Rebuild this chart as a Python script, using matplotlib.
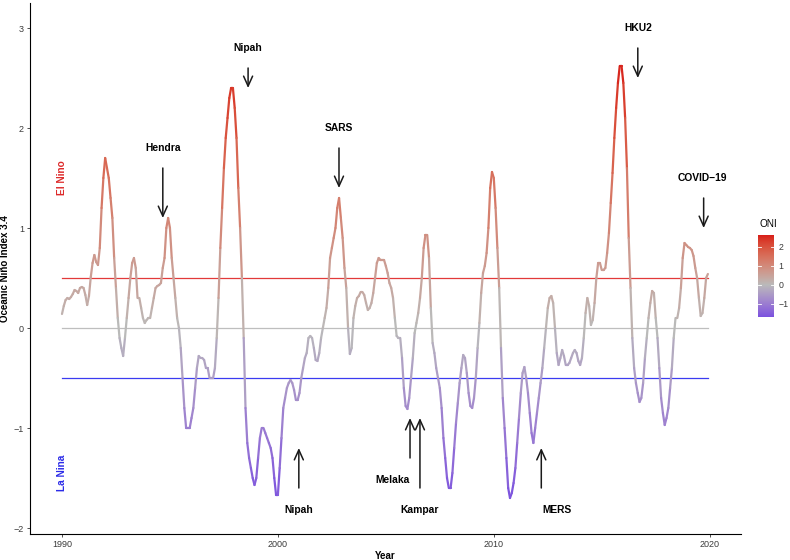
import numpy as np
import matplotlib
matplotlib.use("Agg")
import matplotlib.pyplot as plt
from matplotlib.collections import LineCollection
from matplotlib.colors import ListedColormap, Normalize, to_rgb

plt.rcParams['font.family'] = ['Liberation Sans', 'DejaVu Sans']

# ---------------- data (monthly Oceanic Nino Index, Jan 1990 - Dec 2019) ----------------
start_year = 1990
oni_1990s = [
    0.14, 0.22, 0.28, 0.30, 0.29, 0.31, 0.34, 0.38, 0.37, 0.35, 0.40, 0.41,   # 1990
    0.40, 0.33, 0.23, 0.32, 0.51, 0.65, 0.73, 0.66, 0.63, 0.80, 1.20, 1.50,   # 1991
    1.70, 1.60, 1.50, 1.30, 1.10, 0.70, 0.40, 0.10, -0.10, -0.20, -0.28, -0.10,  # 1992
    0.10, 0.30, 0.50, 0.65, 0.70, 0.60, 0.30, 0.30, 0.20, 0.10, 0.05, 0.08,   # 1993
    0.10, 0.10, 0.20, 0.30, 0.40, 0.42, 0.43, 0.45, 0.60, 0.70, 1.00, 1.10,   # 1994
    1.00, 0.70, 0.50, 0.30, 0.10, 0.00, -0.20, -0.50, -0.80, -1.00, -1.00, -1.00,  # 1995
    -0.90, -0.80, -0.60, -0.40, -0.28, -0.30, -0.30, -0.32, -0.40, -0.40, -0.50, -0.50,  # 1996
    -0.50, -0.40, -0.10, 0.30, 0.80, 1.20, 1.60, 1.90, 2.10, 2.30, 2.40, 2.40,  # 1997
    2.20, 1.90, 1.40, 1.00, 0.50, -0.10, -0.80, -1.15, -1.30, -1.40, -1.50, -1.57,  # 1998
    -1.50, -1.30, -1.10, -1.00, -1.00, -1.05, -1.10, -1.15, -1.20, -1.30, -1.50, -1.67,  # 1999
]
oni_2000s = [
    -1.67, -1.40, -1.10, -0.80, -0.70, -0.60, -0.55, -0.52, -0.55, -0.62, -0.72, -0.72,  # 2000
    -0.65, -0.50, -0.40, -0.30, -0.25, -0.10, -0.08, -0.10, -0.20, -0.32, -0.33, -0.25,  # 2001
    -0.10, 0.00, 0.10, 0.20, 0.40, 0.70, 0.80, 0.90, 1.00, 1.20, 1.30, 1.10,  # 2002
    0.90, 0.60, 0.40, 0.00, -0.26, -0.20, 0.10, 0.22, 0.30, 0.32, 0.36, 0.36,  # 2003
    0.33, 0.25, 0.18, 0.20, 0.25, 0.35, 0.50, 0.65, 0.70, 0.68, 0.68, 0.68,  # 2004
    0.62, 0.55, 0.45, 0.40, 0.30, 0.10, -0.08, -0.10, -0.10, -0.30, -0.60, -0.78,  # 2005
    -0.81, -0.70, -0.50, -0.30, -0.05, 0.05, 0.15, 0.30, 0.50, 0.80, 0.93, 0.93,  # 2006
    0.70, 0.20, -0.15, -0.25, -0.40, -0.50, -0.60, -0.80, -1.10, -1.30, -1.50, -1.60,  # 2007
    -1.60, -1.45, -1.20, -0.95, -0.75, -0.55, -0.40, -0.27, -0.30, -0.45, -0.65, -0.78,  # 2008
    -0.80, -0.70, -0.50, -0.20, 0.05, 0.35, 0.55, 0.62, 0.75, 1.00, 1.40, 1.56,  # 2009
]
oni_2010s = [
    1.50, 1.20, 0.80, 0.40, -0.20, -0.70, -1.00, -1.30, -1.60, -1.70, -1.65, -1.55,  # 2010
    -1.40, -1.15, -0.90, -0.65, -0.45, -0.39, -0.50, -0.65, -0.85, -1.05, -1.15, -1.00,  # 2011
    -0.85, -0.70, -0.55, -0.40, -0.20, 0.00, 0.20, 0.30, 0.32, 0.25, 0.00, -0.25,  # 2012
    -0.37, -0.30, -0.22, -0.28, -0.37, -0.37, -0.35, -0.30, -0.25, -0.22, -0.25, -0.33,  # 2013
    -0.37, -0.30, -0.10, 0.15, 0.30, 0.22, 0.03, 0.08, 0.25, 0.50, 0.65, 0.65,  # 2014
    0.58, 0.58, 0.60, 0.75, 0.95, 1.25, 1.55, 1.90, 2.20, 2.45, 2.62, 2.62,  # 2015
    2.45, 2.10, 1.60, 0.90, 0.40, -0.10, -0.40, -0.55, -0.65, -0.74, -0.70, -0.55,  # 2016
    -0.30, -0.10, 0.10, 0.25, 0.37, 0.35, 0.10, -0.10, -0.40, -0.70, -0.85, -0.97,  # 2017
    -0.90, -0.80, -0.60, -0.40, -0.10, 0.10, 0.10, 0.20, 0.40, 0.70, 0.85, 0.83,  # 2018
    0.81, 0.80, 0.78, 0.72, 0.60, 0.50, 0.30, 0.12, 0.15, 0.30, 0.50, 0.54,  # 2019
]

# hazard lines
el_nino_threshold = 0.5
la_nina_threshold = -0.5

# annotated outbreaks
event_names = ["Hendra", "Nipah", "SARS", "HKU2", "COVID\u221219",
               "Nipah", "Melaka", "Kampar", "MERS"]
event_x = [1994.67, 1998.62, 2002.83, 2016.67, 2019.72,
           2000.97, 2006.12, 2006.58, 2012.20]
arrow_from = [1.6, 2.6, 1.8, 2.8, 1.3, -1.6, -1.3, -1.6, -1.6]
arrow_to = [1.1, 2.4, 1.4, 2.5, 1.0, -1.2, -0.9, -0.9, -1.2]
label_x = [1994.67, 1998.62, 2002.83, 2016.67, 2019.65,
           2000.97, 2005.30, 2006.55, 2012.95]
label_y = [1.8, 2.8, 2.0, 3.0, 1.5, -1.82, -1.52, -1.82, -1.82]

x_ticks = [1990, 2000, 2010, 2020]
y_ticks = [-2, -1, 0, 1, 2, 3]
legend_ticks = [-1, 0, 1, 2]

# ---------------- colour scale (ggplot-like gradient2 in Lab space) ----------------
def _srgb_to_lin(c):
    c = np.asarray(c, float)
    return np.where(c <= 0.04045, c / 12.92, ((c + 0.055) / 1.055) ** 2.4)

def _lin_to_srgb(c):
    c = np.clip(c, 0, 1)
    return np.where(c <= 0.0031308, 12.92 * c, 1.055 * c ** (1 / 2.4) - 0.055)

_M = np.array([[0.4124, 0.3576, 0.1805], [0.2126, 0.7152, 0.0722], [0.0193, 0.1192, 0.9505]])
_Minv = np.linalg.inv(_M)
_WHITE = np.array([0.95047, 1.0, 1.08883])

def rgb_to_lab(rgb):
    xyz = _M @ _srgb_to_lin(rgb) / _WHITE
    f = np.where(xyz > 0.008856, np.cbrt(xyz), 7.787 * xyz + 16 / 116)
    return np.array([116 * f[1] - 16, 500 * (f[0] - f[1]), 200 * (f[1] - f[2])])

def lab_to_rgb(lab):
    L, a, b = lab
    fy = (L + 16) / 116
    fx = fy + a / 500
    fz = fy - b / 200
    f = np.array([fx, fy, fz])
    xyz = np.where(f ** 3 > 0.008856, f ** 3, (f - 16 / 116) / 7.787) * _WHITE
    return np.clip(_lin_to_srgb(_Minv @ xyz), 0, 1)

low_c, mid_c, high_c = rgb_to_lab(to_rgb("#1800F0")), rgb_to_lab(to_rgb("#BABABA")), rgb_to_lab(to_rgb("#D81E1A"))
cols = []
for t in np.linspace(0, 1, 256):
    if t < 0.5:
        f = (0.5 - t) / 0.5
        lab = mid_c + (low_c - mid_c) * f
    else:
        f = (t - 0.5) / 0.5
        lab = mid_c + (high_c - mid_c) * f
    cols.append(lab_to_rgb(lab))
cmap = ListedColormap(cols)

# ---------------- build figure ----------------
oni = np.array(oni_1990s + oni_2000s + oni_2010s)
years = start_year + np.arange(len(oni)) / 12.0
vabs = np.max(np.abs(oni))
norm = Normalize(-vabs, vabs)

fig = plt.figure(figsize=(7.9, 5.6), dpi=100)
ax = fig.add_axes([29.6 / 790, 26 / 560, (741 - 29.6) / 790, (534 - 3) / 560])

# reference lines over the data span
ax.plot([years[0], years[-1]], [0, 0], color="#BEBEBE", lw=0.9, zorder=1)
ax.plot([years[0], years[-1]], [el_nino_threshold] * 2, color="#E23A3A", lw=0.9, zorder=1)
ax.plot([years[0], years[-1]], [la_nina_threshold] * 2, color="#3B3BF0", lw=0.9, zorder=1)

pts = np.column_stack([years, oni])
segs = np.stack([pts[:-1], pts[1:]], axis=1)
mids = (oni[:-1] + oni[1:]) / 2
lc = LineCollection(segs, colors=cmap(norm(mids)), linewidths=1.6,
                    capstyle="round", joinstyle="round", zorder=3)
ax.add_collection(lc)

# annotations
for name, ex, a0, a1, lx, ly in zip(event_names, event_x, arrow_from, arrow_to, label_x, label_y):
    ax.annotate("", xy=(ex, a1), xytext=(ex, a0),
                arrowprops=dict(arrowstyle="->,head_length=0.4,head_width=0.18",
                                mutation_scale=18, lw=1.1, color="#1A1A1A",
                                shrinkA=0, shrinkB=0), zorder=4)
    ax.text(lx, ly, name, ha="center", va="center", fontsize=7.4,
            fontweight="bold", color="black", zorder=4)

ax.text(1990, 1.5, "El Nino", rotation=90, ha="center", va="center",
        fontsize=7.3, fontweight="bold", color="#DD2A2A")
ax.text(1990, -1.45, "La Nina", rotation=90, ha="center", va="center",
        fontsize=7.3, fontweight="bold", color="#2B2BE8")

ax.set_xlim(1988.5, 2021.45)
ax.set_ylim(-2.06, 3.25)
ax.set_xticks(x_ticks)
ax.set_xticklabels([str(v) for v in x_ticks])
ax.set_yticks(y_ticks)
ax.set_yticklabels([("\u2212" + str(-v)) if v < 0 else str(v) for v in y_ticks])
for s in ["top", "right"]:
    ax.spines[s].set_visible(False)
for s in ["left", "bottom"]:
    ax.spines[s].set_linewidth(0.8)
    ax.spines[s].set_color("black")
ax.tick_params(axis="both", length=2.5, width=0.6, color="#333333",
               labelsize=6.5, labelcolor="#3A3A3A", pad=1.5)
ax.set_xlabel("Year", fontsize=7, fontweight="bold", labelpad=1.5)
ax.set_ylabel("Oceanic Ni\u00f1o Index 3.4", fontsize=7, fontweight="bold", labelpad=2.5)

# colour bar legend
vmin, vmax = oni.min(), oni.max()
y_top_px, y_bot_px = 235, 317
cax = fig.add_axes([758 / 790, (560 - y_bot_px) / 560, 16 / 790, (y_bot_px - y_top_px) / 560])
grad = np.linspace(vmin, vmax, 300).reshape(-1, 1)
cax.imshow(grad, aspect="auto", origin="lower", cmap=cmap, norm=norm,
           extent=[0, 1, vmin, vmax])
cax.set_xlim(0, 1)
cax.set_ylim(vmin, vmax)
cax.set_xticks([])
cax.yaxis.tick_right()
cax.set_yticks(legend_ticks)
cax.set_yticklabels([("\u2212" + str(-v)) if v < 0 else str(v) for v in legend_ticks])
cax.tick_params(axis="y", length=0, labelsize=6.3, labelcolor="#3A3A3A", pad=3)
for s in cax.spines.values():
    s.set_visible(False)
for v in legend_ticks:
    cax.plot([0, 0.2], [v, v], color="white", lw=0.6)
    cax.plot([0.8, 1], [v, v], color="white", lw=0.6)
fig.text(759 / 790, 1 - 224 / 560, "ONI", fontsize=7.2, ha="left", va="center")

fig.savefig("out.png", dpi=100)
